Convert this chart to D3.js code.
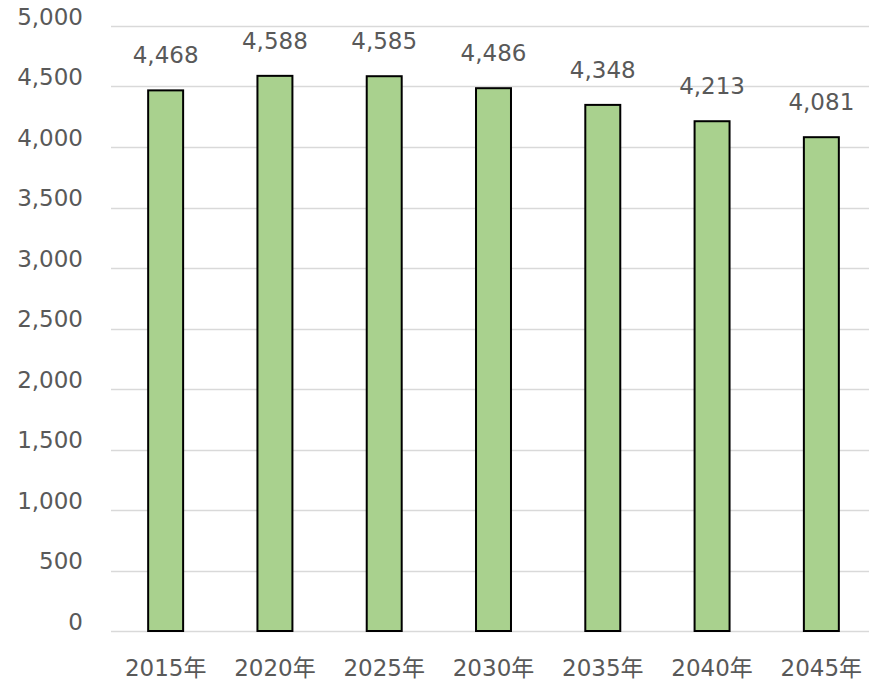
<!DOCTYPE html>
<html>
<head>
<meta charset="utf-8">
<script src="https://cdn.jsdelivr.net/npm/d3@7"></script>
<style>
  body { margin: 0; background: #fff; overflow: hidden; }
  text { font-family: "DejaVu Sans", "Noto Sans CJK JP", sans-serif; fill: #595959; }
</style>
</head>
<body>
<svg id="chart"></svg>
<script>
const years = ["2015年", "2020年", "2025年", "2030年", "2035年", "2040年", "2045年"];
const values = [4468, 4588, 4585, 4486, 4348, 4213, 4081];
const yTicks = [0, 500, 1000, 1500, 2000, 2500, 3000, 3500, 4000, 4500, 5000];

const width = 869;
const height = 682;
const margin = {top: 26, right: -7, bottom: 51, left: 111};
const fontSize = 23;

const svg = d3.select("#chart")
              .attr("width", width)
              .attr("height", height)
              .style("display", "block");

const x = d3.scaleBand()
            .domain(years)
            .range([margin.left, width - margin.right])
            .paddingInner(0.68)
            .paddingOuter(0.34);

const y = d3.scaleLinear()
            .domain([0, 5000])
            .range([height - margin.bottom, margin.top]);

const fmt = d3.format(",");

// gridlines
svg.append("g")
   .selectAll("line")
   .data(yTicks)
   .enter()
   .append("line")
     .attr("x1", margin.left)
     .attr("x2", width)
     .attr("y1", d => Math.round(y(d)) + 0.5)
     .attr("y2", d => Math.round(y(d)) + 0.5)
     .attr("stroke", "#d9d9d9")
     .attr("stroke-width", 1.3);

// y axis labels
const yAxis = svg.append("g")
   .attr("transform", `translate(${margin.left - 28},0)`)
   .call(d3.axisLeft(y).tickValues(yTicks).tickFormat(fmt).tickSize(0).tickPadding(0));
yAxis.select(".domain").remove();
yAxis.selectAll("text")
   .attr("dy", "-0.08em")
   .style("font-size", fontSize + "px")
   .style("font-family", null)
   .attr("fill", "#595959");

// bars
svg.append("g")
   .selectAll("rect")
   .data(values)
   .enter()
   .append("rect")
     .attr("x", (d, i) => x(years[i]))
     .attr("y", d => y(d))
     .attr("width", x.bandwidth())
     .attr("height", d => y(0) - y(d))
     .attr("fill", "#a9d18e")
     .attr("stroke", "#000")
     .attr("stroke-width", 2);

// value labels
svg.append("g")
   .selectAll("text")
   .data(values)
   .enter()
   .append("text")
     .attr("x", (d, i) => x(years[i]) + x.bandwidth() / 2)
     .attr("y", d => y(d) - 27)
     .attr("text-anchor", "middle")
     .style("font-size", fontSize + "px")
     .text(d => fmt(d));

// x axis labels
const xAxis = svg.append("g")
   .attr("transform", `translate(0,${height - margin.bottom})`)
   .call(d3.axisBottom(x).tickSize(0).tickPadding(0));
xAxis.select(".domain").remove();
xAxis.selectAll("text")
   .attr("y", 45)
   .attr("dy", 0)
   .style("font-size", fontSize + "px")
   .style("font-family", null)
   .attr("fill", "#595959");
</script>
</body>
</html>
